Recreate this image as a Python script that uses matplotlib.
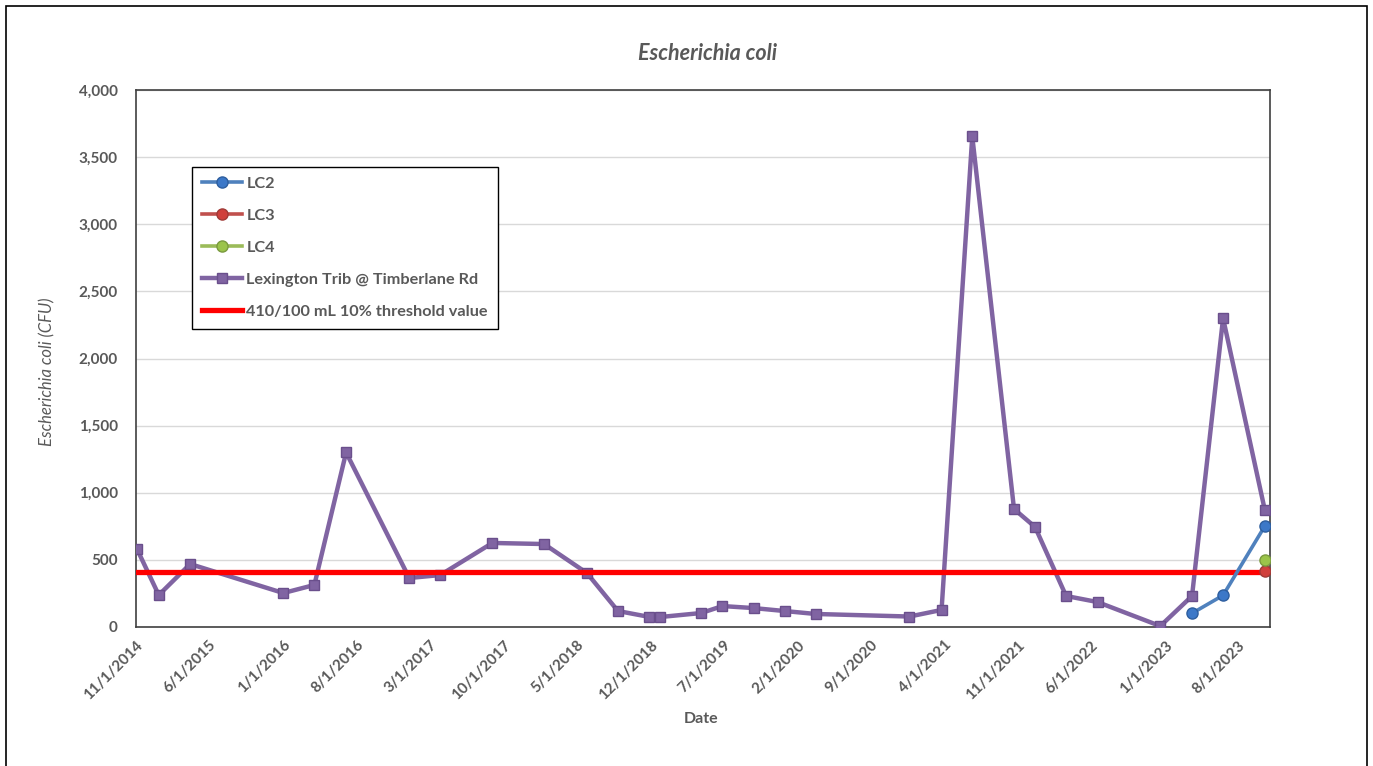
import numpy as np
import pandas as pd
import matplotlib
matplotlib.use("Agg")
import matplotlib.pyplot as plt
from matplotlib.patches import Rectangle
from matplotlib.ticker import FuncFormatter

plt.rcParams["font.family"] = ["Lato", "DejaVu Sans"]

# Lexington Trib @ Timberlane Rd
lex_dates = ["2014-11-04", "2015-01-06", "2015-04-07", "2016-01-02", "2016-04-01",
             "2016-07-02", "2017-01-01", "2017-04-01", "2017-08-30", "2018-01-27",
             "2018-05-31", "2018-08-29", "2018-11-26", "2018-12-28", "2019-04-27",
             "2019-06-28", "2019-09-26", "2019-12-25", "2020-03-24", "2020-12-21",
             "2021-03-24", "2021-06-21", "2021-10-20", "2021-12-20", "2022-03-20",
             "2022-06-19", "2022-12-18", "2023-03-20", "2023-06-18", "2023-10-17"]
lex_vals = [580, 238, 469, 253, 313, 1300, 365, 387, 626, 618,
            402, 119, 76, 74, 104, 156, 141, 119, 97, 78,
            127, 3655, 879, 745, 231, 186, 7, 231, 2300, 871]

lc2_dates = ["2023-03-20", "2023-06-18", "2023-10-17"]
lc2_vals = [102, 236, 752]
lc3_dates = ["2023-10-17"]
lc3_vals = [415]
lc4_dates = ["2023-10-17"]
lc4_vals = [499]

threshold = 410
tick_dates = pd.date_range("2014-11-01", periods=16, freq="7MS")

W, H = 1373, 766
fig = plt.figure(figsize=(W / 100, H / 100), dpi=100)
ax = fig.add_axes([136 / W, 1 - 627 / H, 1134 / W, 537 / H])

gray = "#595959"
lex_d = pd.to_datetime(lex_dates)

ax.plot(pd.to_datetime(lc2_dates), lc2_vals, color="#4F81BD", lw=2.6, marker="o",
        ms=8, mfc="#3C78C8", mec="#2E5E9E", label="LC2", zorder=4)
ax.plot(pd.to_datetime(lc3_dates), lc3_vals, color="#C0504D", lw=2.6, marker="o",
        ms=8, mfc="#D0403C", mec="#A03A37", label="LC3", zorder=4)
ax.plot(pd.to_datetime(lc4_dates), lc4_vals, color="#9BBB59", lw=2.6, marker="o",
        ms=8, mfc="#9BC44A", mec="#7A9A3F", label="LC4", zorder=4)
ax.plot(lex_d, lex_vals, color="#8064A2", lw=3.2, marker="s", ms=6.5,
        mfc="#8064A2", mec="#6A4F8C", label="Lexington Trib @ Timberlane Rd", zorder=3)
ax.plot([lex_d[0], lex_d[-1]], [threshold, threshold], color="#FF0000", lw=3.8,
        label="410/100 mL 10% threshold value", zorder=3.5)

ax.set_xlim(pd.Timestamp("2014-11-01"), pd.Timestamp("2023-11-01"))
ax.set_ylim(0, 4000)
ax.set_yticks(np.arange(0, 4001, 500))
ax.yaxis.set_major_formatter(FuncFormatter(lambda v, p: f"{int(v):,}"))
ax.set_xticks(tick_dates)
ax.set_xticklabels([f"{d.month}/{d.day}/{d.year}" for d in tick_dates],
                   rotation=45, ha="right", rotation_mode="anchor")
ax.tick_params(axis="both", length=0, labelsize=11, labelcolor=gray)
ax.tick_params(axis="y", pad=13)
ax.tick_params(axis="x", pad=8)
for lbl in ax.get_xticklabels() + ax.get_yticklabels():
    lbl.set_fontweight("bold")

ax.grid(axis="y", color="#D9D9D9", lw=1)
ax.set_axisbelow(True)
for s in ax.spines.values():
    s.set_color("#404040")
    s.set_linewidth(1.2)

fig.text(701 / W, 1 - 719 / H, "Date", ha="center", va="center", fontsize=11.5,
         fontweight="bold", color=gray)
fig.text(47 / W, 1 - 372 / H, "Escherichia coli (CFU)", rotation=90, ha="center",
         va="center", fontsize=12, style="italic", color=gray)
fig.text(708 / W, 1 - 53 / H, "Escherichia coli", ha="center", va="center",
         fontsize=15.5, style="italic", fontweight="bold", color=gray)

leg = ax.legend(loc="upper left", bbox_to_anchor=((192 - 136) / 1134, (627 - 167) / 537),
                borderaxespad=0, fancybox=False, edgecolor="black", framealpha=1,
                prop={"weight": "bold", "size": 11.7}, labelcolor=gray,
                handlelength=2.5, handletextpad=0.25, labelspacing=1.08,
                borderpad=0.6)
leg.get_frame().set_linewidth(1.0)

fig.patches.append(Rectangle((6 / W, -0.05), 1361 / W, 1.05 - 6 / H, transform=fig.transFigure,
                             fill=False, edgecolor="black", lw=1.2))

fig.savefig("out.png", dpi=100)
